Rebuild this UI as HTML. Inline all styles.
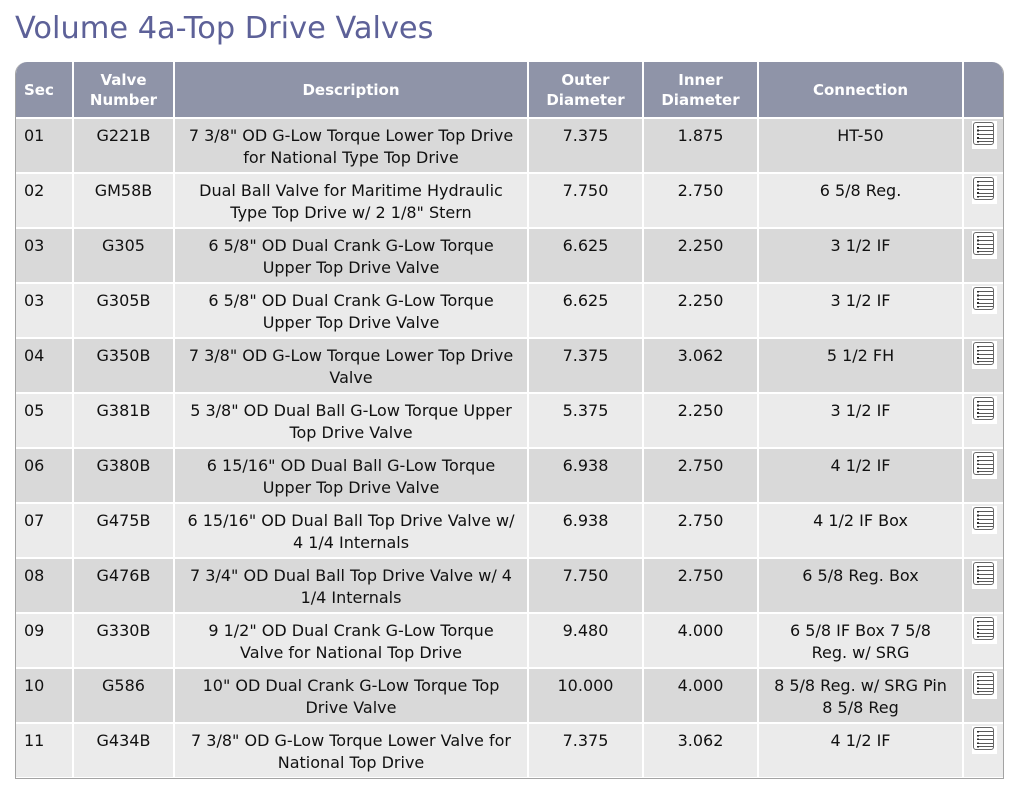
<!DOCTYPE html>
<html><head><meta charset="utf-8">
<style>
html,body{margin:0;padding:0;background:#fff;}
body{width:1021px;height:796px;position:relative;overflow:hidden;font-family:"DejaVu Sans","Liberation Sans",sans-serif;}
h1{position:absolute;left:15px;top:9px;margin:0;font-weight:normal;font-size:30.4px;line-height:40px;color:#5d6198;white-space:nowrap;}
.wrap{position:absolute;left:15px;top:62px;width:987px;height:716px;border:1px solid #a3a3a3;border-top:none;border-radius:12px 12px 0 0;overflow:hidden;background:#fff;}
.g{display:grid;grid-template-columns:56px 99px 352px 113px 113px 203px 39px;grid-template-rows:55px repeat(12,53px);gap:2px;background:#fff;}
.h{background:#8f94a8;color:#fff;font-weight:bold;font-size:15px;line-height:20px;display:flex;align-items:center;justify-content:center;text-align:center;white-space:nowrap;}
.h.l{justify-content:flex-start;padding-left:8px;}
.c{font-size:16px;line-height:22px;color:#111;padding-top:6px;text-align:center;white-space:nowrap;box-sizing:border-box;}
.c.l{text-align:left;padding-left:8px;}
.o{background:#d9d9d9;}
.e{background:#ebebeb;}
.ic{position:relative;}
.ic b{position:absolute;left:8px;top:2px;width:25px;height:28px;background:#fff;}
.ic i{position:absolute;left:9px;top:3px;width:19px;height:21px;border:1.5px solid #686868;border-radius:3px;}
.ic s{position:absolute;left:13px;width:16px;height:1.4px;background:#5a5a5a;}
.ic u{position:absolute;left:13px;top:7px;width:2px;height:17px;background:repeating-linear-gradient(#2a2a2a 0 1.6px,transparent 1.6px 3.75px);}
</style></head><body>
<h1>Volume 4a-Top Drive Valves</h1>
<div class="wrap"><div class="g">
<div class="h l">Sec</div><div class="h">Valve<br>Number</div><div class="h">Description</div><div class="h">Outer<br>Diameter</div><div class="h">Inner<br>Diameter</div><div class="h">Connection</div><div class="h"></div>

<div class="c l o">01</div><div class="c o">G221B</div><div class="c o">7 3/8" OD G-Low Torque Lower Top Drive<br>for National Type Top Drive</div><div class="c o">7.375</div><div class="c o">1.875</div><div class="c o">HT-50</div><div class="c o ic"><b></b><i></i><s style="top:7px"></s><s style="top:11px"></s><s style="top:15px"></s><s style="top:18.5px"></s><s style="top:22px"></s><u></u></div>

<div class="c l e">02</div><div class="c e">GM58B</div><div class="c e">Dual Ball Valve for Maritime Hydraulic<br>Type Top Drive w/ 2 1/8" Stern</div><div class="c e">7.750</div><div class="c e">2.750</div><div class="c e">6 5/8 Reg.</div><div class="c e ic"><b></b><i></i><s style="top:7px"></s><s style="top:11px"></s><s style="top:15px"></s><s style="top:18.5px"></s><s style="top:22px"></s><u></u></div>

<div class="c l o">03</div><div class="c o">G305</div><div class="c o">6 5/8" OD Dual Crank G-Low Torque<br>Upper Top Drive Valve</div><div class="c o">6.625</div><div class="c o">2.250</div><div class="c o">3 1/2 IF</div><div class="c o ic"><b></b><i></i><s style="top:7px"></s><s style="top:11px"></s><s style="top:15px"></s><s style="top:18.5px"></s><s style="top:22px"></s><u></u></div>

<div class="c l e">03</div><div class="c e">G305B</div><div class="c e">6 5/8" OD Dual Crank G-Low Torque<br>Upper Top Drive Valve</div><div class="c e">6.625</div><div class="c e">2.250</div><div class="c e">3 1/2 IF</div><div class="c e ic"><b></b><i></i><s style="top:7px"></s><s style="top:11px"></s><s style="top:15px"></s><s style="top:18.5px"></s><s style="top:22px"></s><u></u></div>

<div class="c l o">04</div><div class="c o">G350B</div><div class="c o">7 3/8" OD G-Low Torque Lower Top Drive<br>Valve</div><div class="c o">7.375</div><div class="c o">3.062</div><div class="c o">5 1/2 FH</div><div class="c o ic"><b></b><i></i><s style="top:7px"></s><s style="top:11px"></s><s style="top:15px"></s><s style="top:18.5px"></s><s style="top:22px"></s><u></u></div>

<div class="c l e">05</div><div class="c e">G381B</div><div class="c e">5 3/8" OD Dual Ball G-Low Torque Upper<br>Top Drive Valve</div><div class="c e">5.375</div><div class="c e">2.250</div><div class="c e">3 1/2 IF</div><div class="c e ic"><b></b><i></i><s style="top:7px"></s><s style="top:11px"></s><s style="top:15px"></s><s style="top:18.5px"></s><s style="top:22px"></s><u></u></div>

<div class="c l o">06</div><div class="c o">G380B</div><div class="c o">6 15/16" OD Dual Ball G-Low Torque<br>Upper Top Drive Valve</div><div class="c o">6.938</div><div class="c o">2.750</div><div class="c o">4 1/2 IF</div><div class="c o ic"><b></b><i></i><s style="top:7px"></s><s style="top:11px"></s><s style="top:15px"></s><s style="top:18.5px"></s><s style="top:22px"></s><u></u></div>

<div class="c l e">07</div><div class="c e">G475B</div><div class="c e">6 15/16" OD Dual Ball Top Drive Valve w/<br>4 1/4 Internals</div><div class="c e">6.938</div><div class="c e">2.750</div><div class="c e">4 1/2 IF Box</div><div class="c e ic"><b></b><i></i><s style="top:7px"></s><s style="top:11px"></s><s style="top:15px"></s><s style="top:18.5px"></s><s style="top:22px"></s><u></u></div>

<div class="c l o">08</div><div class="c o">G476B</div><div class="c o">7 3/4" OD Dual Ball Top Drive Valve w/ 4<br>1/4 Internals</div><div class="c o">7.750</div><div class="c o">2.750</div><div class="c o">6 5/8 Reg. Box</div><div class="c o ic"><b></b><i></i><s style="top:7px"></s><s style="top:11px"></s><s style="top:15px"></s><s style="top:18.5px"></s><s style="top:22px"></s><u></u></div>

<div class="c l e">09</div><div class="c e">G330B</div><div class="c e">9 1/2" OD Dual Crank G-Low Torque<br>Valve for National Top Drive</div><div class="c e">9.480</div><div class="c e">4.000</div><div class="c e">6 5/8 IF Box 7 5/8<br>Reg. w/ SRG</div><div class="c e ic"><b></b><i></i><s style="top:7px"></s><s style="top:11px"></s><s style="top:15px"></s><s style="top:18.5px"></s><s style="top:22px"></s><u></u></div>

<div class="c l o">10</div><div class="c o">G586</div><div class="c o">10" OD Dual Crank G-Low Torque Top<br>Drive Valve</div><div class="c o">10.000</div><div class="c o">4.000</div><div class="c o">8 5/8 Reg. w/ SRG Pin<br>8 5/8 Reg</div><div class="c o ic"><b></b><i></i><s style="top:7px"></s><s style="top:11px"></s><s style="top:15px"></s><s style="top:18.5px"></s><s style="top:22px"></s><u></u></div>

<div class="c l e">11</div><div class="c e">G434B</div><div class="c e">7 3/8" OD G-Low Torque Lower Valve for<br>National Top Drive</div><div class="c e">7.375</div><div class="c e">3.062</div><div class="c e">4 1/2 IF</div><div class="c e ic"><b></b><i></i><s style="top:7px"></s><s style="top:11px"></s><s style="top:15px"></s><s style="top:18.5px"></s><s style="top:22px"></s><u></u></div>
</div></div>
</body></html>
